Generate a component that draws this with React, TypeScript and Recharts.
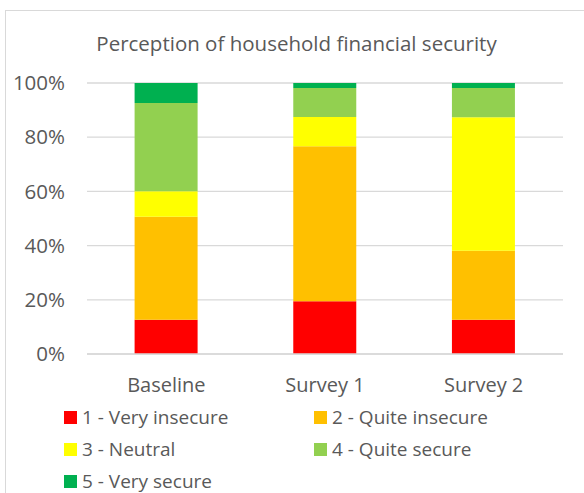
import { Bar, BarChart, CartesianGrid, XAxis, YAxis } from "recharts";

const categories = ["Baseline", "Survey 1", "Survey 2"];
const seriesNames = [
  "1 - Very insecure",
  "2 - Quite insecure",
  "3 - Neutral",
  "4 - Quite secure",
  "5 - Very secure"
];
const veryInsecure = [12.6, 19.5, 12.6];
const quiteInsecure = [38.0, 57.2, 25.5];
const neutral = [9.5, 10.8, 49.3];
const quiteSecure = [32.5, 10.7, 10.8];
const verySecure = [7.4, 1.8, 1.8];
const yTicks = [0, 0.2, 0.4, 0.6, 0.8, 1];
const colors = ["#ff0000", "#ffc000", "#ffff00", "#92d050", "#00b050"];

const keys = ["s1", "s2", "s3", "s4", "s5"];
const seriesValues = [veryInsecure, quiteInsecure, neutral, quiteSecure, verySecure];

const data = categories.map((name, i) => {
  const row: Record<string, string | number> = { name };
  keys.forEach((k, j) => {
    row[k] = seriesValues[j][i];
  });
  return row;
});

const FONT = "Open Sans, sans-serif";
const TEXT = "#595959";

const App = () => {
  return (
    <div
      style={{
        position: "fixed",
        left: 0,
        top: 0,
        width: 584,
        height: 493,
        background: "#fff",
        overflow: "hidden",
        fontFamily: FONT
      }}
    >
      <div
        style={{
          position: "absolute",
          left: 5,
          top: 10,
          width: 620,
          height: 520,
          border: "1.5px solid #d9d9d9",
          boxSizing: "border-box"
        }}
      />
      <div
        style={{
          position: "absolute",
          left: 0,
          top: 30,
          width: 593,
          textAlign: "center",
          color: TEXT,
          fontSize: 20.5,
          lineHeight: "26px"
        }}
      >
        Perception of household financial security
      </div>
      <BarChart
        data={data}
        height={493}
        margin={{ top: 83, right: 21, bottom: 109, left: 0 }}
        stackOffset="expand"
        barCategoryGap="30%"
        style={{ position: "absolute", left: 0, top: 0 }}
        width={584}
      >
        <CartesianGrid stroke="#d9d9d9" strokeWidth={1.3} vertical={false} />
        <XAxis
          axisLine={{ stroke: "#d9d9d9", strokeWidth: 1.3 }}
          dataKey="name"
          height={30}
          tick={{ fill: TEXT, fontSize: 20, fontFamily: FONT, dy: 6 }}
          tickLine={false}
          tickMargin={12}
        />
        <YAxis
          axisLine={false}
          domain={[0, 1]}
          tick={{ fill: TEXT, fontSize: 20.5, fontFamily: FONT }}
          tickFormatter={(v) => `${Math.round(v * 100)}%`}
          tickLine={false}
          tickMargin={22}
          tickSize={0}
          ticks={yTicks}
          width={87}
        />
        {keys.map((k, j) => (
          <Bar
            dataKey={k}
            fill={colors[j]}
            isAnimationActive={false}
            key={k}
            name={seriesNames[j]}
            stackId="a"
          />
        ))}
      </BarChart>
      {seriesNames.map((name, j) => (
        <div
          key={name}
          style={{
            position: "absolute",
            left: j % 2 === 0 ? 64 : 314,
            top: 404 + Math.floor(j / 2) * 32,
            display: "flex",
            alignItems: "center",
            color: TEXT,
            fontSize: 19,
            lineHeight: "26px",
            whiteSpace: "nowrap"
          }}
        >
          <span
            style={{
              display: "inline-block",
              width: 13,
              height: 13,
              background: colors[j],
              marginRight: 5
            }}
          />
          {name}
        </div>
      ))}
    </div>
  );
};

export default App;
